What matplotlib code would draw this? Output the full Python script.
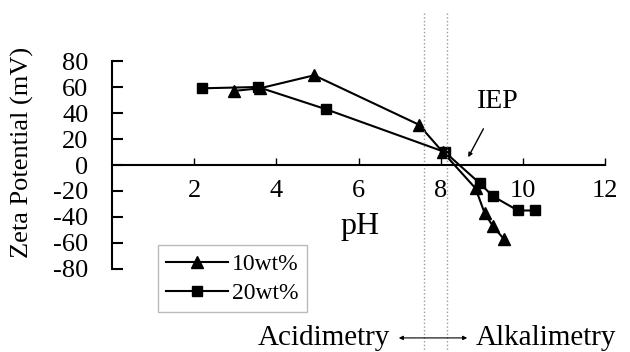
import matplotlib
matplotlib.use('Agg')
import matplotlib.pyplot as plt

# data
ph_10 = [2.97, 3.6, 4.92, 7.47, 8.05, 8.85, 9.07, 9.27, 9.54]
zeta_10 = [57, 59, 69, 31, 10, -18, -37, -47, -57]
ph_20 = [2.2, 3.55, 5.2, 8.1, 8.95, 9.27, 9.88, 10.3]
zeta_20 = [59, 60, 43, 10, -14, -24, -35, -35]
x_ticks = [2, 4, 6, 8, 10, 12]
y_ticks = [-80, -60, -40, -20, 0, 20, 40, 60, 80]
ref_lines = [7.6, 8.15]

plt.rcParams['font.family'] = ['Liberation Serif', 'DejaVu Serif']
plt.rcParams['font.size'] = 19
plt.rcParams['axes.unicode_minus'] = False

fig = plt.figure(figsize=(6.3, 3.52), dpi=100)
ax = fig.add_axes([0.1778, 0.2358, 0.7825, 0.5909])

ax.plot(ph_10, zeta_10, color='black', lw=1.5, marker='^', ms=8, label='10wt%')
ax.plot(ph_20, zeta_20, color='black', lw=1.5, marker='s', ms=7, label='20wt%')

ax.set_xlim(0, 12)
ax.set_ylim(-80, 80)
ax.spines['top'].set_visible(False)
ax.spines['right'].set_visible(False)
ax.spines['bottom'].set_position(('data', 0))
ax.spines['left'].set_linewidth(1.5)
ax.spines['bottom'].set_linewidth(1.5)
ax.set_xticks(x_ticks)
ax.set_yticks(y_ticks)
ax.tick_params(axis='x', direction='in', length=5, width=1, pad=11)
ax.tick_params(axis='y', direction='in', length=8, width=1.5, pad=17)

# dotted reference lines spanning beyond the axes
for xv in ref_lines:
    ax.axvline(xv, ymin=-0.43, ymax=1.23, color='#999999', ls=':', lw=1, clip_on=False)

fig.text(22 / 630, 1 - 152 / 352, 'Zeta Potential (mV)', rotation=90,
         ha='center', va='center', fontsize=19)
ax.text(6.03, -47, 'pH', ha='center', va='center', fontsize=23)

ax.annotate('IEP', xy=(8.67, 6), xytext=(9.4, 49), ha='center', va='center',
            fontsize=20,
            arrowprops=dict(arrowstyle='-|>', color='black', lw=1, shrinkA=10, shrinkB=0,
                            mutation_scale=6))

leg = ax.legend(loc='lower left', bbox_to_anchor=(0.093, -0.207), fontsize=17,
                frameon=True, fancybox=False, handlelength=2.6, handletextpad=0.2,
                borderpad=0.35, labelspacing=0.3, borderaxespad=0)
leg.get_frame().set_edgecolor('#aaaaaa')
leg.get_frame().set_linewidth(1)

# bottom annotation
fig.text(390 / 630, 0.04, 'Acidimetry', ha='right', va='center', fontsize=21)
fig.text(476 / 630, 0.04, 'Alkalimetry', ha='left', va='center', fontsize=21)
fig.patches.append(matplotlib.patches.FancyArrowPatch(
    (396 / 630, 0.04), (470 / 630, 0.04), transform=fig.transFigure,
    arrowstyle='<|-|>', mutation_scale=6, color='black', lw=0.8))

fig.savefig('out.png', dpi=100)
